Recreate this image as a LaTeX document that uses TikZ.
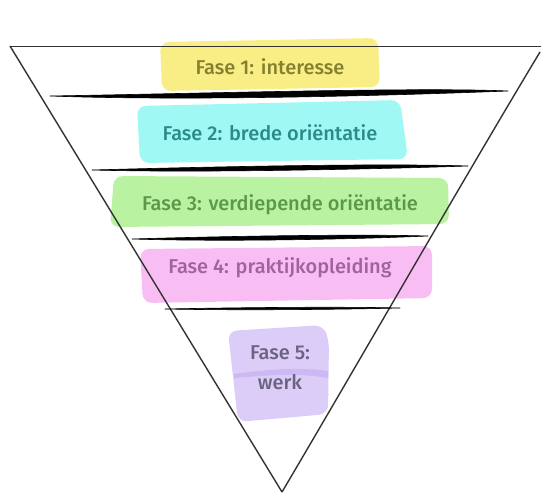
\documentclass[tikz,border=0pt]{standalone}
\usepackage{fontspec}
\setmainfont{Fira Sans}
\newfontfamily\lblfont{Fira Sans}[UprightFont={* Medium}]
\definecolor{hlY}{HTML}{F8EE85}
\definecolor{hlC}{HTML}{A0F8F5}
\definecolor{hlG}{HTML}{B9F3A2}
\definecolor{hlP}{HTML}{F8BEF3}
\definecolor{hlV}{HTML}{DCCDF8}
\definecolor{hlVd}{HTML}{CDB8F3}
\definecolor{txY}{HTML}{858030}
\definecolor{txC}{HTML}{2A8C88}
\definecolor{txG}{HTML}{5A984A}
\definecolor{txP}{HTML}{A4629C}
\definecolor{txV}{HTML}{6A6480}
\definecolor{edge}{HTML}{333333}
\tikzset{
  hl/.style={rounded corners=9pt},
  lbl/.style={inner sep=0pt, font=\lblfont\fontsize{20}{22}\selectfont},
  outline/.style={draw=edge, line width=1.4pt, line join=miter},
  brush/.style={fill=black, draw=black, line width=0.6pt, line join=round}
}
\begin{document}
\begin{tikzpicture}[x=1pt,y=-1pt]
\useasboundingbox (0,0) rectangle (541,493);
% highlighter marks
\fill[hlY, hl] (160,42) -- (378,38) -- (380,87) -- (162,91) -- cycle;
\fill[hlC, hl] (137,106) -- (400,100) -- (408,159) -- (140,163) -- cycle;
\fill[hlG, hl] (114,176) -- (448,178) -- (449,224) -- (110,227) -- cycle;
\fill[hlP, hl] (140,249) -- (432,246) -- (432,298) -- (143,303) -- cycle;
\fill[hlV, hl] (228,331) -- (323,325) -- (329,340) -- (328,414) -- (238,422) -- cycle;
\fill[hlVd] (234,374) .. controls (270,369) and (300,367) .. (328,371) -- (328,378) .. controls (300,373) and (270,375) .. (234,378) -- cycle;
% funnel outline
\coordinate (tl) at (10,46);
\coordinate (rt) at (540,52);
\coordinate (ap) at (282,492);
\draw[draw=edge, line width=1pt] (541,46) -- (tl);
\draw[outline] (tl) -- (ap);
\draw[outline] (rt) .. controls (460,185) and (360,360) .. (ap);
% divider strokes
\filldraw[brush] (50,96) .. controls (200,93.5) and (420,87) .. (508,91) .. controls (420,94.5) and (200,101.5) .. (50,96) -- cycle;
\filldraw[brush] (92,170) .. controls (200,167) and (380,163) .. (468,166) .. controls (380,169) and (200,173) .. (92,170) -- cycle;
\filldraw[brush] (132,239) .. controls (230,236) and (360,234) .. (428,236) .. controls (360,239) and (230,242) .. (132,239) -- cycle;
\filldraw[brush] (165,309) .. controls (240,307.5) and (340,306.5) .. (400,308) .. controls (340,309.5) and (240,310.5) .. (165,309) -- cycle;
% labels
\node[lbl, text=txY] (f1) at (270,67) {Fase 1: interesse};
\node[lbl, text=txC] (f2) at (270,133) {Fase 2: brede oriëntatie};
\node[lbl, text=txG] (f3) at (280,205) {Fase 3: verdiepende oriëntatie};
\node[lbl, text=txP] (f4) at (280,268) {Fase 4: praktijkopleiding};
\node[lbl, text=txV] (f5a) at (280,353) {Fase 5:};
\node[lbl, text=txV] (f5b) at (280,382) {werk};
\end{tikzpicture}
\end{document}
